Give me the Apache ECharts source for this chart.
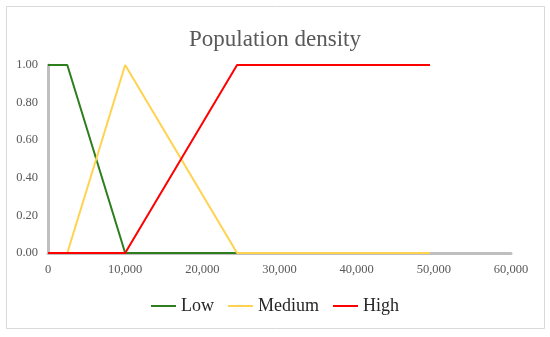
<!DOCTYPE html>
<html><head><meta charset="utf-8">
<script src="https://cdn.jsdelivr.net/npm/echarts@6/dist/echarts.min.js"></script>
<style>html,body{margin:0;padding:0;background:#fff}#c{width:550px;height:337px}</style>
</head><body><div id="c"></div>
<script>
const seriesNames = ['Low', 'Medium', 'High'];
const lowData = [[0, 1], [2500, 1], [10000, 0], [24500, 0], [49500, 0]];
const mediumData = [[0, 0], [2500, 0], [10000, 1], [24500, 0], [49500, 0]];
const highData = [[0, 0], [10000, 0], [24500, 1], [49500, 1]];
const colors = ['#2E7D1E', '#FFD34F', '#FF0000'];
const font = '"Liberation Serif", "DejaVu Serif", serif';

const chart = echarts.init(document.getElementById('c'), null, {renderer: 'canvas'});
const dataSets = [lowData, mediumData, highData];
chart.setOption({
  animation: false,
  backgroundColor: '#fff',
  title: {text: 'Population density', left: 'center', top: 23,
    textStyle: {fontFamily: font, fontSize: 23, fontWeight: 'normal', color: '#595959'}},
  graphic: [{type: 'rect', shape: {x: 6.5, y: 6.5, width: 538, height: 322},
    style: {fill: 'none', stroke: '#D9D9D9', lineWidth: 1}, silent: true}],
  grid: {left: 48, right: 39, top: 65, bottom: 84},
  legend: {bottom: 17, left: 'center', itemWidth: 25, itemHeight: 2, itemGap: 14,
    icon: 'rect',
    textStyle: {fontFamily: font, fontSize: 18, color: '#262626'},
    data: seriesNames},
  xAxis: {type: 'value', min: 0, max: 60000, interval: 10000,
    axisLine: {show: true, onZero: false, lineStyle: {color: '#BFBFBF', width: 3}},
    axisTick: {show: false}, splitLine: {show: false},
    axisLabel: {fontFamily: font, fontSize: 12.5, color: '#595959', margin: 10,
      formatter: v => v.toLocaleString('en-US')}},
  yAxis: {type: 'value', min: 0, max: 1, interval: 0.2,
    axisLine: {show: true, lineStyle: {color: '#BFBFBF', width: 3}},
    axisTick: {show: false}, splitLine: {show: false},
    axisLabel: {fontFamily: font, fontSize: 12.5, color: '#595959', margin: 10,
      formatter: v => v.toFixed(2)}},
  series: seriesNames.map((n, i) => ({
    name: n, type: 'line', data: dataSets[i], showSymbol: false, symbol: 'none',
    lineStyle: {color: colors[i], width: 2}, itemStyle: {color: colors[i]}, z: 2 + i
  }))
});
</script></body></html>
